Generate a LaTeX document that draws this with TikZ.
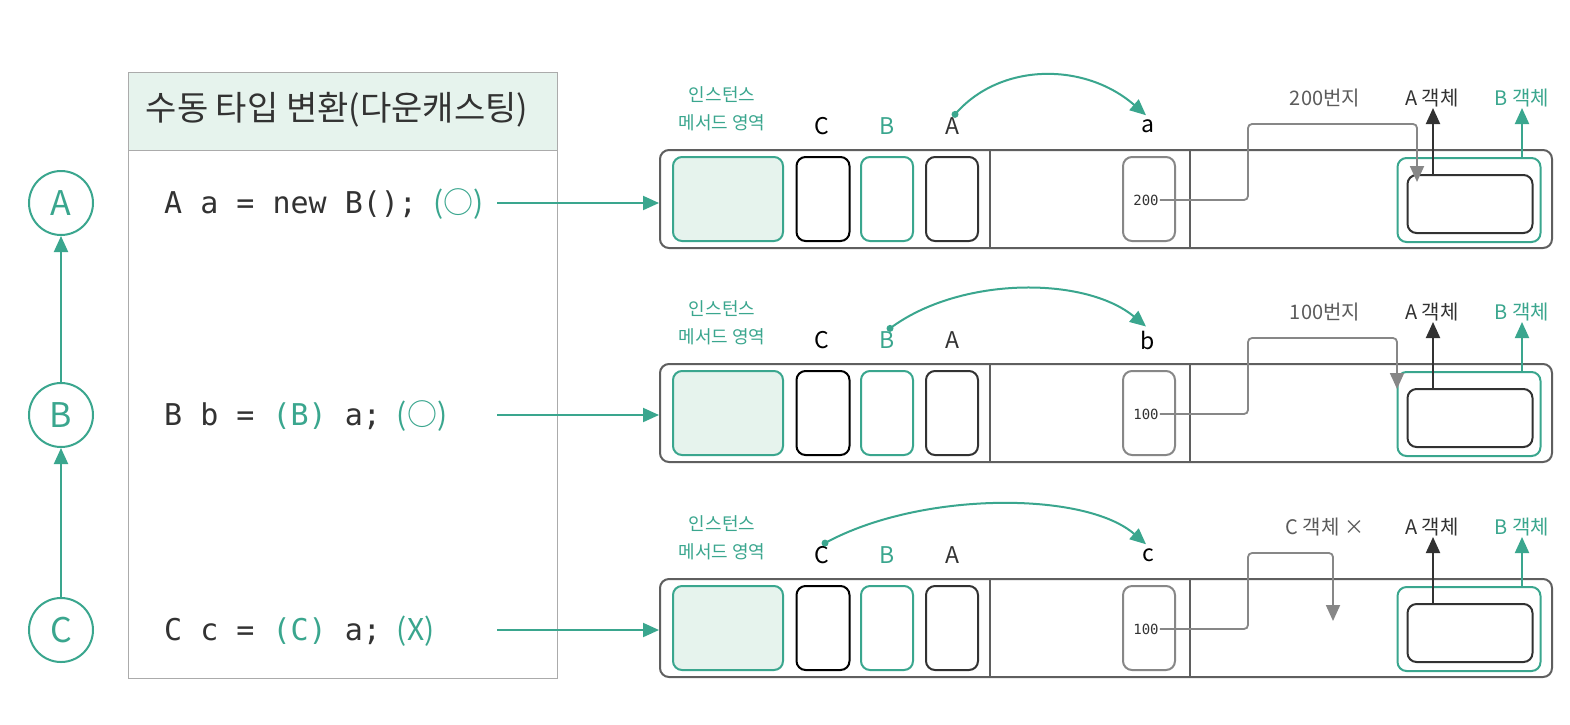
\documentclass[tikz,border=0pt]{standalone}
\usepackage{fontspec}
\setmainfont{Noto Sans CJK KR}
\newfontfamily\krfont{Noto Sans CJK KR}
\newfontfamily\codefont{DejaVu Sans Mono}
\usetikzlibrary{arrows.meta,calc}
\definecolor{tealc}{RGB}{58,166,142}
\definecolor{lightteal}{RGB}{230,243,237}
\definecolor{darkc}{RGB}{50,50,50}
\definecolor{grayc}{RGB}{135,135,135}
\definecolor{panelc}{RGB}{95,95,95}
\tikzset{
  tarrow/.style={draw=tealc, line width=2pt, -{Triangle[length=16pt,width=14pt]}},
  darrow/.style={draw=darkc, line width=2pt, -{Triangle[length=16pt,width=14pt]}},
  garrow/.style={draw=grayc, line width=1.8pt, rounded corners=4pt, -{Triangle[length=16pt,width=14pt]}},
  circ/.style={circle, draw=tealc, line width=2pt, minimum size=64pt, inner sep=0pt, text=tealc, font=\krfont\fontsize{34}{38}\selectfont},
  panel/.style={draw=panelc, line width=2pt, rounded corners=9pt, minimum width=892pt, minimum height=98pt, inner sep=0pt},
  panelline/.style={draw=panelc, line width=1.6pt},
  cell/.style={rounded corners=9pt, line width=2pt, minimum width=53pt, minimum height=84pt, inner sep=0pt},
  lbl/.style={font=\krfont\fontsize{23}{25}\selectfont, inner sep=2pt},
  small/.style={font=\krfont\fontsize{18}{21}\selectfont, inner sep=1pt},
  codetxt/.style={font=\codefont\fontsize{30}{34}\selectfont, anchor=west, inner sep=0pt},
}
\newcommand{\memrow}[9]{%
  % #1 suffix, #2 dy, #3 var name, #4 value, #5 address label, #6 source letter,
  % #7 gray arrow x, #8 gray tip y, #9 first control x
  \begin{scope}[shift={(0,#2)}]
    \node[panel] (p#1) at (1106,199) {};
    \draw[panelline] (990,150) -- (990,248);
    \draw[panelline] (1190,150) -- (1190,248);
    \node[cell, draw=tealc, fill=lightteal, minimum width=110pt] (m#1) at (728,199) {};
    \node[cell, draw=black] (cC#1) at (823,199) {};
    \node[cell, draw=tealc, minimum width=52pt] (cB#1) at (887,199) {};
    \node[cell, draw=darkc, minimum width=52pt] (cA#1) at (952,199) {};
    \node[cell, draw=grayc, minimum width=52pt] (cv#1) at (1149,199) {};
    \node[font=\codefont\fontsize{14}{16}\selectfont, inner sep=1pt, text=darkc] (v#1) at (1146,200) {#4};
    \node[small, text=tealc] (t1#1) at (722,95) {인스턴스};
    \node[small, text=tealc] (t2#1) at (722,123) {메서드 영역};
    \node[lbl, text=black] (lC#1) at (822,126) {C};
    \node[lbl, text=tealc] (lB#1) at (887,126) {B};
    \node[lbl, text=darkc] (lA#1) at (952,126) {A};
    \node[lbl, text=black] (var#1) at (1148,126) {#3};
    \node[cell, draw=tealc, minimum width=143pt, minimum height=84pt] (ob#1) at (1469,200) {};
    \node[cell, draw=darkc, minimum width=125pt, minimum height=58pt] (oa#1) at (1470,204) {};
    \node[small, font=\krfont\fontsize{20}{22}\selectfont, text=darkc!80] (addr#1) at (1325,98) {#5};
    \node[small, font=\krfont\fontsize{20}{22}\selectfont, text=darkc] (la#1) at (1432,98) {A 객체};
    \node[small, font=\krfont\fontsize{20}{22}\selectfont, text=tealc] (lb#1) at (1522,98) {B 객체};
    \coordinate (aa#1) at (1433,175);
    \coordinate (at#1) at (1433,108);
    \coordinate (ba#1) at (1522,158);
    \coordinate (bt#1) at (1522,108);
    \draw[darrow] (aa#1) -- (at#1);
    \draw[tarrow] (ba#1) -- (bt#1);
    \draw[garrow] (v#1.east) -- (1248,200) -- (1248,124) -- (#7,124) -- (#7,#8);
    \fill[tealc] ($(l#6#1.north)+(3,-1)$) circle (3.5pt);
    \draw[tarrow] ($(l#6#1.north)+(3,-1)$) .. controls (#9,62) and (1085,62) .. ($(var#1.north)+(-2,-2)$);
  \end{scope}
}
\begin{document}
\begin{tikzpicture}[x=1pt,y=-1pt]
\useasboundingbox[fill=white] (0,0) rectangle (1570,724);
% class hierarchy
\node[circ] (A) at (61,203) {A};
\node[circ] (B) at (61,415) {B};
\node[circ] (C) at (61,630) {C};
\draw[tarrow] (B) -- (A);
\draw[tarrow] (C) -- (B);
% left box
\node[draw=grayc!70, fill=lightteal, line width=1.2pt, anchor=north west, minimum width=429pt, minimum height=78pt, inner sep=0pt] (hdr) at (128,72) {};
\node[font=\krfont\fontsize{34}{38}\selectfont, text=darkc] (title) at (337,110) {수동 타입 변환(다운캐스팅)};
\node[draw=grayc!70, line width=1.2pt, anchor=north west, minimum width=429pt, minimum height=528pt, inner sep=0pt] (codebox) at (128,150) {};
\node[codetxt, text=darkc] (code1) at (164,204) {A a = new B();\hspace{16pt}{\krfont\color{tealc}(○)}};
\node[codetxt, text=darkc] (code2) at (164,416) {B b = {\color{tealc}(B)} a;\hspace{16pt}{\krfont\color{tealc}(○)}};
\node[codetxt, text=darkc] (code3) at (164,631) {C c = {\color{tealc}(C)} a;\hspace{16pt}{\krfont\color{tealc}(X)}};
% memory rows
\memrow{1}{0}{a}{200}{200번지}{A}{1417}{182}{1000}
\memrow{2}{214}{b}{100}{100번지}{B}{1397}{175}{960}
\memrow{3}{429}{c}{100}{C 객체 ×}{C}{1333}{192}{920}
% connectors from code to panels
\coordinate (s1) at (497,203);
\coordinate (s2) at (497,415);
\coordinate (s3) at (497,630);
\draw[tarrow] (s1) -- (s1 -| p1.west);
\draw[tarrow] (s2) -- (s2 -| p2.west);
\draw[tarrow] (s3) -- (s3 -| p3.west);
\end{tikzpicture}
\end{document}
